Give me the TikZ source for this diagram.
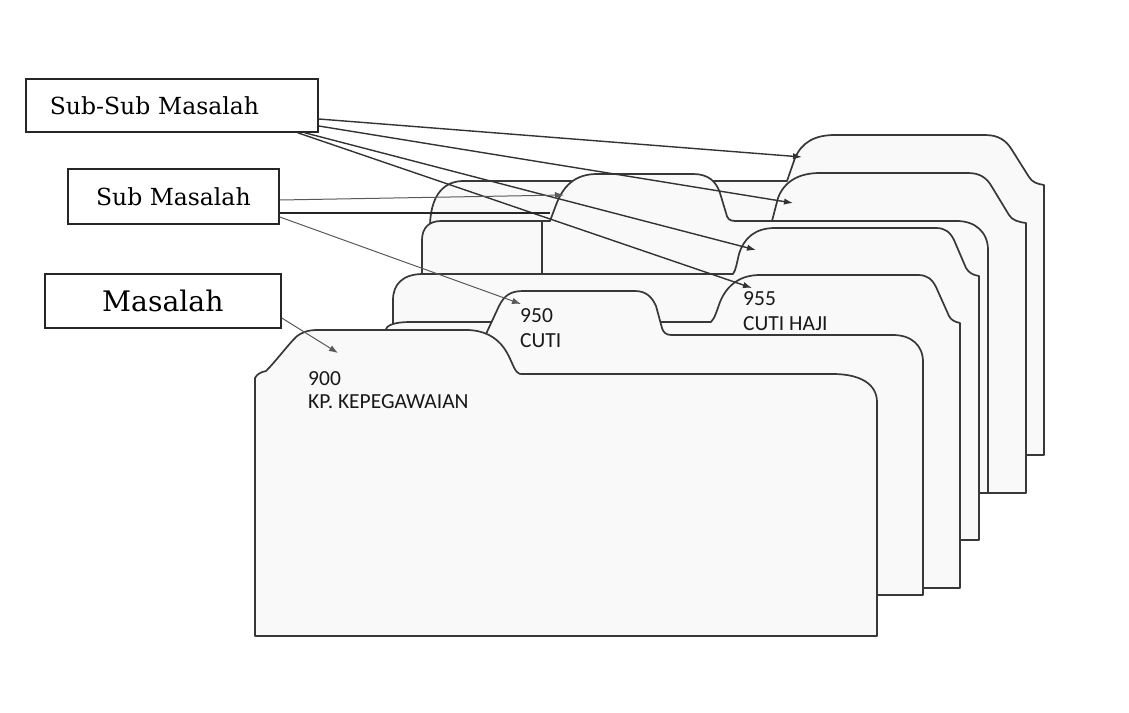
\documentclass[tikz,border=0pt]{standalone}
\usepackage{fontspec}
\setmainfont{DejaVu Serif}
\newfontfamily\cardfont{Carlito}
\usetikzlibrary{arrows.meta,calc}
\begin{document}
\begin{tikzpicture}[x=1pt,y=-1pt,
  card/.style={draw=black!78, line width=1.7pt, fill=black!2.5, line join=round},
  lbl/.style={draw=black!85, line width=1.8pt, fill=white, inner sep=0pt, anchor=north west},
  cardtxt/.style={inner sep=0pt, anchor=base west, font=\cardfont\fontsize{21.5pt}{24pt}\selectfont, text=black!90},
  ssarrow/.style={draw=black!80, line width=1.4pt, -{Latex[length=9pt,width=6.5pt]}},
  thinarrow/.style={draw=black!65, line width=1pt, -{Latex[length=9pt,width=6.5pt]}},
  thickline/.style={draw=black!85, line width=2.2pt}
]
\useasboundingbox (0,0) rectangle (1129,712);

% cards, back to front
\path[card] (430,455) -- (430,224) .. controls (431,200) and (440,182) .. (462,181) -- (787,181) -- (795,158) .. controls (802,142) and (815,135) .. (835,135) -- (985,135) .. controls (998,135) and (1006,140) .. (1012,150) -- (1029,177) .. controls (1032,182) and (1037,184) .. (1044,185) -- (1044,455) -- cycle;
\path[card] (422,493) -- (422,240) .. controls (422,228) and (429,221) .. (441,221) -- (772,221) -- (778,198) .. controls (784,182) and (798,173) .. (820,173) -- (968,173) .. controls (980,173) and (987,178) .. (992,187) -- (1009,215) .. controls (1012,220) and (1018,222) .. (1026,223) -- (1026,493) -- cycle;
\path[card] (542,493) -- (542,221) -- (550,221) -- (556,205) .. controls (563,186) and (575,174) .. (597,174) -- (693,174) .. controls (708,174) and (716,181) .. (720,193) -- (726,213) .. controls (727,218) and (729,221) .. (735,221) -- (957,221) .. controls (975,221) and (988,232) .. (988,250) -- (988,493) -- cycle;
\path[card] (393,540) -- (393,300) .. controls (393,284) and (403,274) .. (423,274) -- (733,274) .. controls (736,270) and (737,262) .. (739,254) .. controls (744,238) and (755,228) .. (775,228) -- (936,228) .. controls (945,228) and (950,232) .. (954,240) -- (966,268) .. controls (969,273) and (973,275) .. (979,276) -- (979,540) -- cycle;
\path[card] (385,588) -- (385,331) .. controls (386,325) and (395,322) .. (410,322) -- (711,322) .. controls (715,318) and (717,310) .. (720,302) .. controls (727,285) and (740,275) .. (760,275) -- (918,275) .. controls (927,275) and (932,279) .. (936,287) -- (949,316) .. controls (951,320) and (955,322) .. (960,323) -- (960,588) -- cycle;
\path[card] (400,595) -- (400,334) -- (486,334) -- (499,306) .. controls (504,296) and (510,291) .. (523,291) -- (635,291) .. controls (646,291) and (652,297) .. (656,306) -- (662,328) .. controls (663,332) and (666,335) .. (671,335) -- (893,335) .. controls (911,335) and (923,345) .. (923,362) -- (923,595) -- cycle;
\path[card] (255,636) -- (255,378) .. controls (257,374) and (261,372) .. (266,371) .. controls (276,361) and (287,346) .. (296,337) .. controls (302,332) and (308,330) .. (318,330) -- (466,330) .. controls (484,330) and (496,337) .. (504,348) .. controls (511,358) and (513,368) .. (517,372) .. controls (518,374) and (520,374) .. (524,374) -- (833,374) .. controls (860,374) and (877,384) .. (877,402) -- (877,636) -- cycle;

% card labels
\node[cardtxt] (n900) at (308,385) {900};
\node[cardtxt] (nkp) at (308,408) {KP. KEPEGAWAIAN};
\node[cardtxt] (n950) at (520,322) {950};
\node[cardtxt] (ncuti) at (520,347) {CUTI};
\node[cardtxt] (n955) at (743,305) {955};
\node[cardtxt] (nhaji) at (743,330) {CUTI HAJI};

% label boxes
\node[lbl, minimum height=53pt, text width=244pt, inner xsep=24pt, align=left,
      font=\fontsize{23.5pt}{28pt}\selectfont] (ss) at (25,78) {Sub-Sub Masalah};
\node[lbl, minimum height=55pt, minimum width=211pt, align=center,
      font=\fontsize{23.5pt}{28pt}\selectfont] (sub) at (67,168) {Sub Masalah};
\node[lbl, minimum height=54pt, minimum width=236pt, align=center,
      font=\fontsize{28.3pt}{34pt}\selectfont] (mas) at (44,273) {Masalah};

% arrow targets
\coordinate (t7) at (802,157);
\coordinate (t6) at (793,203);
\coordinate (t4) at (756,250);
\coordinate (t3) at (752,288);
\coordinate (t5) at (564,195);
\coordinate (e5) at (550,213);
\coordinate (t950) at (521,304);
\coordinate (t900) at (338,353);

% connectors
\draw[ssarrow] ($(ss.north east)+(0,41)$) -- (t7);
\draw[ssarrow] ($(ss.north east)+(0,48)$) -- (t6);
\draw[ssarrow] ($(ss.south east)+(-14,0)$) -- (t4);
\draw[ssarrow] ($(ss.south east)+(-21,0)$) -- (t3);
\draw[thinarrow] ($(sub.north east)+(0,32)$) -- (t5);
\draw[thickline] ($(sub.north east)+(0,45)$) -- (e5);
\draw[thinarrow] ($(sub.north east)+(0,49)$) -- (t950);
\draw[thinarrow] ($(mas.north east)+(0,45)$) -- (t900);
\end{tikzpicture}
\end{document}
